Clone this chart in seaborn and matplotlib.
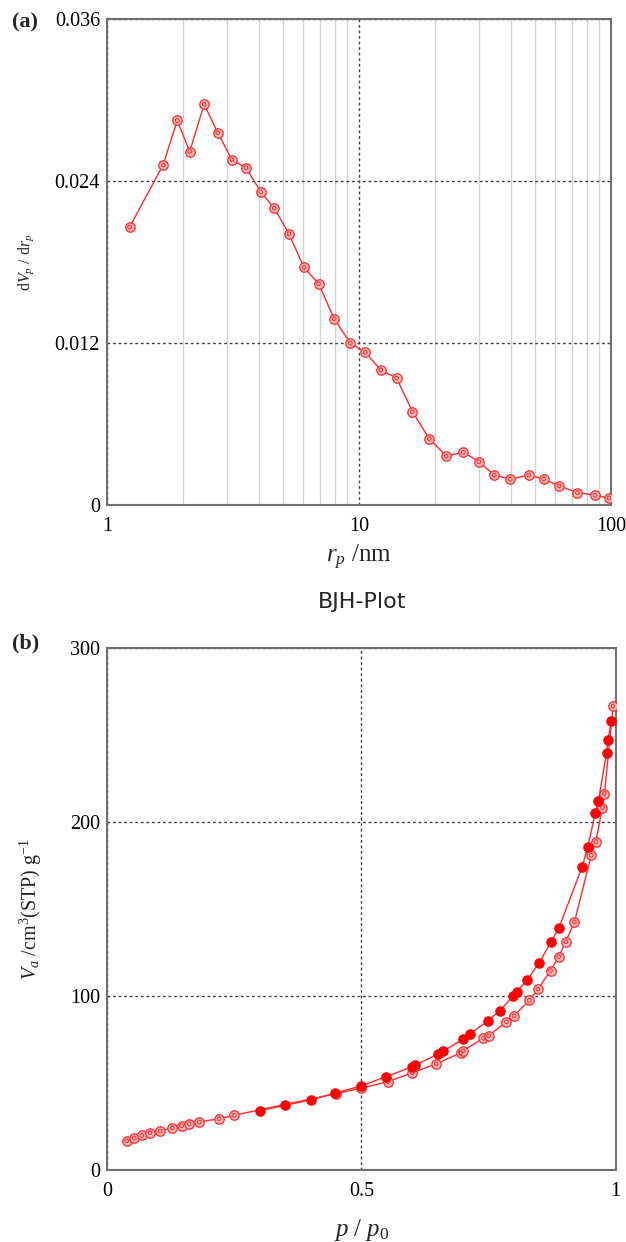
import matplotlib
matplotlib.use('Agg')
import matplotlib.pyplot as plt
import seaborn as sns

# BJH pore size distribution (a)
r_nm = [1.23, 1.67, 1.90, 2.13, 2.43, 2.75, 3.13, 3.56, 4.08, 4.61, 5.27, 6.05,
        6.91, 7.97, 9.23, 10.6, 12.2, 14.1, 16.3, 19.0, 22.2, 25.9, 29.9, 34.4,
        39.8, 47.1, 54.1, 62.2, 73.6, 86.4, 98.2]
dvdr = [0.0206, 0.0252, 0.0285, 0.0262, 0.0297, 0.0276, 0.0256, 0.0250, 0.0232,
        0.0220, 0.0201, 0.0176, 0.0164, 0.0138, 0.0120, 0.0113, 0.0100, 0.0094,
        0.0069, 0.0049, 0.0036, 0.0039, 0.0032, 0.0022, 0.0019, 0.0022, 0.0019,
        0.0014, 0.0009, 0.0007, 0.0005]

# isotherm (b): adsorption (open) and desorption (filled)
p_ads = [0.038, 0.053, 0.068, 0.084, 0.104, 0.128, 0.146, 0.161, 0.181, 0.220,
         0.250, 0.450, 0.500, 0.552, 0.600, 0.647, 0.695, 0.700, 0.740, 0.750,
         0.785, 0.800, 0.830, 0.847, 0.872, 0.888, 0.902, 0.919, 0.952, 0.961,
         0.974, 0.978, 0.995]
v_ads = [16.8, 18.4, 19.9, 21.4, 22.4, 24.3, 25.5, 26.6, 27.6, 29.5, 31.5, 43.9,
         47.1, 50.8, 55.9, 61.0, 67.4, 68.6, 75.8, 77.2, 85.2, 88.6, 97.6, 104.0,
         114.7, 122.7, 131.3, 142.7, 181.0, 188.9, 208.4, 216.5, 266.7]
p_des = [0.9915, 0.985, 0.982, 0.966, 0.960, 0.945, 0.934, 0.888, 0.873, 0.850,
         0.826, 0.805, 0.798, 0.773, 0.748, 0.714, 0.699, 0.661, 0.650, 0.605,
         0.600, 0.548, 0.500, 0.448, 0.401, 0.350, 0.300]
v_des = [258.0, 247.5, 239.8, 212.1, 205.4, 185.5, 174.3, 138.9, 131.3, 119.3,
         109.3, 102.3, 100.0, 91.7, 85.7, 78.2, 75.2, 68.3, 66.6, 60.2, 59.4,
         53.6, 48.4, 44.2, 40.3, 37.2, 34.1]

sns.set_style('white')
plt.rcParams['font.family'] = ['Liberation Serif', 'DejaVu Serif']
plt.rcParams['mathtext.fontset'] = 'custom'
plt.rcParams['mathtext.rm'] = 'Liberation Serif'
plt.rcParams['mathtext.it'] = 'Liberation Serif:italic'

RED = '#ff2a2a'
PINK = '#ffb8b8'
GRID = '#404040'

fig = plt.figure(figsize=(6.26, 12.42), dpi=100)
ax1 = fig.add_axes([0.1709, 0.5936, 0.8051, 0.3908])
ax2 = fig.add_axes([0.1714, 0.0580, 0.8121, 0.4200])


def open_series(ax, x, y):
    sns.lineplot(x=x, y=y, ax=ax, sort=False, estimator=None, color=RED, lw=1,
                 marker='o', markersize=6.8, markerfacecolor=PINK,
                 markeredgecolor=RED, markeredgewidth=0.9, zorder=3)
    sns.scatterplot(x=x, y=y, ax=ax, s=7, marker='o', facecolor='none',
                    edgecolor=RED, linewidth=0.7, zorder=4)


open_series(ax1, r_nm, dvdr)
ax1.set_xscale('log')
ax1.set_xlim(1, 100)
ax1.set_ylim(0, 0.036)
ax1.set_xticks([1, 10, 100])
ax1.set_xticklabels(['1', '10', '100'])
ax1.set_yticks([0, 0.012, 0.024, 0.036])
ax1.set_yticklabels(['0', '0.012', '0.024', '0.036'])
ax1.xaxis.grid(True, which='minor', color='#d4d4d4', lw=1, ls='-')
ax1.xaxis.grid(True, which='major', color=GRID, lw=1, ls=(0, (2, 2)))
ax1.yaxis.grid(True, which='major', color=GRID, lw=1, ls=(0, (2, 2)))
ax1.set_xlabel(r'$r_p$ /nm', fontsize=18)
ax1.set_ylabel(r'd$V_p$ / d$r_p$', fontsize=11.5)
ax1.xaxis.set_label_coords(0.5, -0.109)
ax1.yaxis.set_label_coords(-0.161, 0.5)

open_series(ax2, p_ads, v_ads)
sns.lineplot(x=p_des, y=v_des, ax=ax2, sort=False, estimator=None, color=RED,
             lw=1, marker='o', markersize=6.8, markerfacecolor='#ff0000',
             markeredgecolor='#ff0000', zorder=5)
ax2.set_xlim(0, 1)
ax2.set_ylim(0, 300)
ax2.set_xticks([0, 0.5, 1])
ax2.set_xticklabels(['0', '0.5', '1'])
ax2.set_yticks([0, 100, 200, 300])
ax2.set_yticklabels(['0', '100', '200', '300'])
ax2.grid(True, color=GRID, lw=1, ls=(0, (2, 2)))
ax2.set_xlabel(r'$p\ /\ p_0$', fontsize=18)
ax2.set_ylabel(r'$V_a\ /\mathrm{cm}^3\mathrm{(STP)\ g}^{\mathrm{-1}}$', fontsize=14.5)
ax2.xaxis.set_label_coords(0.5, -0.115)
ax2.yaxis.set_label_coords(-0.150, 0.5)

for ax in (ax1, ax2):
    ax.set_axisbelow(True)
    ax.tick_params(which='both', length=0, labelsize=14.5, colors='black')
    ax.tick_params(axis='x', pad=9)
    ax.tick_params(axis='y', pad=5)
    ax.xaxis.label.set_va('center')
    ax.yaxis.label.set_va('center')
    for s in ax.spines.values():
        s.set_color('#707070')
        s.set_linewidth(1.5)
        s.set_visible(True)

fig.text(0.019, 1 - 22 / 1242, '(a)', fontsize=16, fontweight='bold',
         ha='left', va='center')
fig.text(0.019, 1 - 643 / 1242, '(b)', fontsize=16, fontweight='bold',
         ha='left', va='center')
fig.text(362 / 626, 1 - 602 / 1242, 'BJH-Plot', fontsize=16,
         family='DejaVu Sans', ha='center', va='center')

fig.savefig('out.png', dpi=100)
